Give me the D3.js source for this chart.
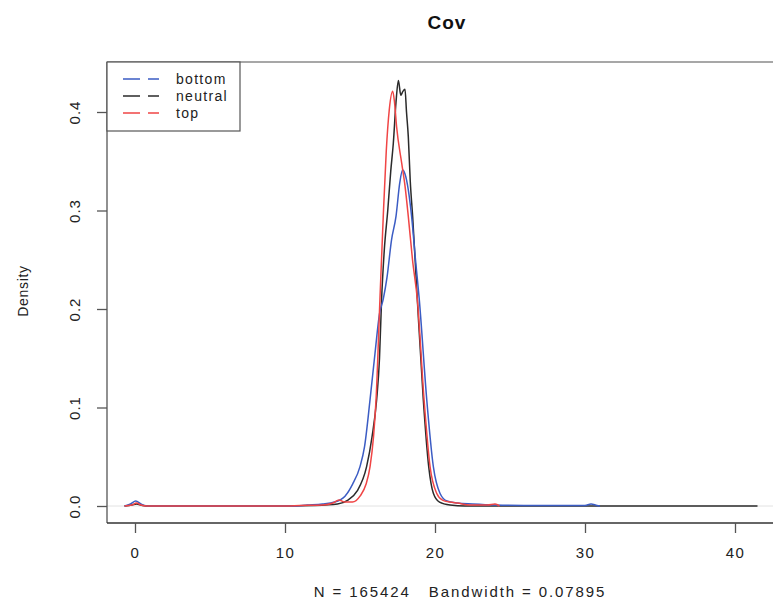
<!DOCTYPE html>
<html><head><meta charset="utf-8">
<script src="https://cdn.jsdelivr.net/npm/d3@7"></script>
<style>body{margin:0;background:#fff}svg{display:block}text{font-family:"Liberation Sans",Arial,Helvetica,sans-serif}</style>
</head><body><svg id="c" width="773" height="599"></svg>
<script>
const seriesNames = ["bottom","neutral","top"];
const seriesColors = ["#3b5cc4","#2b2b2b","#f04545"];
const xTicks = [0,10,20,30,40];
const yTicks = [0.0,0.1,0.2,0.3,0.4];
const yTickLabels = ["0.0","0.1","0.2","0.3","0.4"];

const bottomX = [-0.7,-0.3,0.05,0.4,0.8,6,10.5,11.5,12.5,13.3,14,14.5,15,15.3,15.67,16,16.3,16.55,16.8,17.1,17.4,17.65,17.84,18,18.22,18.44,18.7,18.95,19.45,19.89,20.33,20.8,21.5,22.5,24,27,30,30.4,30.8,31];
const bottomY = [0,0.002,0.005,0.002,0,0,0,0.001,0.002,0.004,0.01,0.022,0.04,0.06,0.108,0.155,0.195,0.21,0.232,0.27,0.294,0.328,0.341,0.337,0.321,0.294,0.25,0.21,0.108,0.04,0.013,0.005,0.003,0.002,0.001,0.0005,0.0005,0.002,0.0005,0];

const neutralX = [-0.7,-0.2,0.1,0.5,1,10,12,13.5,14.2,14.8,15.44,15.8,16.11,16.3,16.44,16.62,16.85,17.05,17.22,17.4,17.56,17.72,17.86,18,18.1,18.22,18.35,18.51,18.82,19.22,19.58,19.89,20.3,21,22,41.5];
const neutralY = [0,0.001,0.002,0.0005,0,0,0.0005,0.002,0.006,0.015,0.04,0.07,0.108,0.15,0.21,0.26,0.3,0.34,0.368,0.41,0.432,0.417,0.421,0.423,0.4,0.375,0.33,0.294,0.21,0.108,0.04,0.013,0.004,0.001,0,0];

const topX = [-0.7,-0.2,0.1,0.4,0.8,10,11,12.5,13.2,13.6,14,14.5,15,15.4,15.67,15.9,16.07,16.33,16.55,16.75,16.95,17.18,17.3,17.44,17.78,18,18.22,18.5,18.82,19.27,19.67,20.11,20.5,21,21.5,22.3,23.5,24,24.3];
const topY = [0,0.001,0.003,0.001,0,0,0.0005,0.001,0.003,0.006,0.004,0.004,0.01,0.022,0.04,0.07,0.108,0.21,0.294,0.36,0.402,0.421,0.41,0.385,0.348,0.325,0.294,0.25,0.21,0.108,0.04,0.013,0.006,0.004,0.003,0.001,0.001,0.002,0];

const svg = d3.select("#c");
const x = d3.scaleLinear().domain([0,40]).range([135,735]);
const y = d3.scaleLinear().domain([0,0.4]).range([506,112]);
const L = 107, R = 800, T = 62, B = 523;

// zero line
svg.append("line").attr("x1",L).attr("x2",R).attr("y1",y(0)).attr("y2",y(0))
  .attr("stroke","#e2e2e2").attr("stroke-width",1);

const line = d3.line().x(d=>x(d[0])).y(d=>y(d[1])).curve(d3.curveMonotoneX);
const data = [[bottomX,bottomY],[neutralX,neutralY],[topX,topY]];
[1,0,2].forEach(i=>{
  const pts = data[i][0].map((v,j)=>[v,data[i][1][j]]);
  svg.append("path").attr("d",line(pts)).attr("fill","none")
    .attr("stroke",seriesColors[i]).attr("stroke-width",1.5);
});

// box
svg.append("line").attr("x1",L).attr("x2",R).attr("y1",T).attr("y2",T).attr("stroke","#8a8a8a").attr("stroke-width",1.3);
svg.append("line").attr("x1",L).attr("x2",L).attr("y1",T).attr("y2",B).attr("stroke","#555").attr("stroke-width",1.3);
svg.append("line").attr("x1",L).attr("x2",R).attr("y1",B).attr("y2",B).attr("stroke","#333").attr("stroke-width",1.3);

// x axis
const xa = d3.axisBottom(x).tickValues(xTicks).tickSize(10).tickPadding(14).tickFormat(d3.format("d"));
const gx = svg.append("g").attr("transform",`translate(0,${B})`).call(xa);
gx.select(".domain").remove();
gx.selectAll("line").attr("stroke","#555").attr("stroke-width",1.3);
gx.selectAll("text").attr("font-size",15).attr("fill","#222").attr("letter-spacing","1.5px");

// y axis
const ya = d3.axisLeft(y).tickValues(yTicks).tickSize(10).tickFormat((d,i)=>yTickLabels[i]);
const gy = svg.append("g").attr("transform",`translate(${L},0)`).call(ya);
gy.select(".domain").remove();
gy.selectAll("line").attr("stroke","#555").attr("stroke-width",1.3);
gy.selectAll("text").attr("font-size",15).attr("fill","#222").attr("letter-spacing","1px")
  .attr("x",null).attr("dy",null)
  .attr("text-anchor","middle")
  .attr("transform","translate(-27,0) rotate(-90)");

// titles
svg.append("text").attr("x",447).attr("y",29).attr("text-anchor","middle")
  .attr("font-size",19).attr("font-weight","bold").attr("letter-spacing","1px").attr("fill","#111").text("Cov");
svg.append("text").attr("x",460).attr("y",597).attr("text-anchor","middle")
  .attr("font-size",15).attr("fill","#222").attr("letter-spacing","1.9px").attr("xml:space","preserve")
  .style("white-space","pre").text("N = 165424   Bandwidth = 0.07895");
svg.append("text").attr("transform","translate(28,291) rotate(-90)").attr("text-anchor","middle")
  .attr("font-size",14).attr("letter-spacing","0.7px").attr("fill","#222").text("Density");

// legend
svg.append("rect").attr("x",L).attr("y",T).attr("width",133).attr("height",69)
  .attr("fill","#fff").attr("stroke","#555").attr("stroke-width",1.2);
seriesNames.forEach((n,i)=>{
  const yy = 79 + i*17;
  svg.append("line").attr("x1",123).attr("x2",159).attr("y1",yy).attr("y2",yy)
    .attr("stroke",seriesColors[i]).attr("stroke-width",1.6).attr("stroke-dasharray","17,8");
  svg.append("text").attr("x",176).attr("y",yy+5).attr("font-size",14).attr("letter-spacing","1.3px").attr("fill","#222").text(n);
});
</script></body></html>
